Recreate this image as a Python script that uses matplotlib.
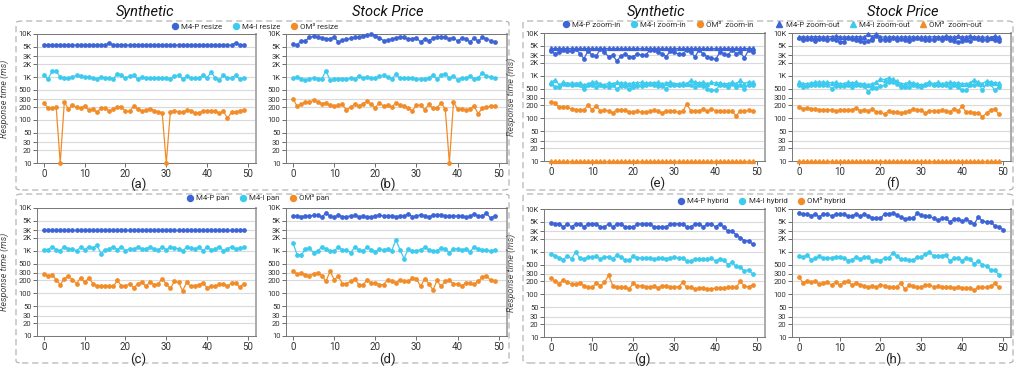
import matplotlib.pyplot as plt
from matplotlib.lines import Line2D
from matplotlib.patches import FancyBboxPatch
from matplotlib.ticker import FixedLocator, FixedFormatter, NullLocator

plt.rcParams['font.family'] = ['Roboto', 'DejaVu Sans']

BLUE = '#3d64d6'
CYAN = '#3ccbee'
ORANGE = '#f28c28'

yticks = [10, 20, 30, 50, 100, 200, 300, 500, 1000, 2000, 3000, 5000, 10000]
ytick_labels = ['10', '20', '30', '50', '100', '200', '300', '500', '1K', '2K', '3K', '5K', '10K']
xticks = [0, 10, 20, 30, 40, 50]

# ---- resize ----
m4p_resize_syn = [5500, 5500, 5500, 5500, 5500, 5500, 5500, 5500, 5500, 5500,
                  5500, 5500, 5500, 5500, 5500, 5500, 6200, 5500, 5500, 5500,
                  5500, 5500, 5500, 5500, 5500, 5500, 5500, 5500, 5500, 5500,
                  5500, 5500, 5500, 5500, 5500, 5500, 5500, 5500, 5500, 5500,
                  5500, 5500, 5500, 5500, 5500, 5500, 5500, 6200, 5500, 5500]
m4i_resize_syn = [1100, 900, 1350, 1350, 1000, 950, 950, 1000, 1100, 1050,
                  1000, 1000, 950, 900, 1000, 950, 950, 900, 1200, 1100,
                  950, 1050, 1100, 880, 1000, 950, 950, 950, 950, 950,
                  950, 900, 1050, 1100, 900, 1050, 950, 950, 950, 1100,
                  950, 1300, 950, 850, 1100, 950, 950, 1100, 900, 950]
om3_resize_syn = [250, 190, 190, 200, 10, 260, 180, 220, 200, 190,
                  210, 170, 180, 150, 190, 190, 160, 180, 200, 200,
                  160, 160, 210, 180, 160, 170, 185, 165, 155, 145,
                  10, 155, 165, 155, 150, 170, 165, 145, 145, 165,
                  165, 165, 160, 145, 160, 110, 150, 150, 165, 170]

m4p_resize_stk = [5800, 5500, 7000, 7000, 8300, 8800, 8500, 8200, 7800, 7800,
                  8500, 6500, 7200, 7500, 7900, 8300, 8500, 9000, 9300, 9800,
                  9000, 8200, 7000, 7200, 7500, 8200, 8500, 8500, 7500, 7800,
                  8200, 6500, 7800, 7000, 7900, 8500, 8500, 8300, 7800, 8200,
                  6800, 8000, 7800, 6500, 8000, 6800, 8300, 7800, 7000, 6500]
m4i_resize_stk = [950, 1000, 900, 850, 900, 950, 900, 900, 1400, 850,
                  900, 900, 900, 880, 950, 900, 1050, 950, 1000, 950,
                  950, 1050, 1100, 1000, 920, 1150, 950, 950, 950, 950,
                  900, 880, 900, 950, 1100, 900, 1100, 1200, 950, 1050,
                  850, 950, 950, 1050, 900, 950, 1250, 1050, 1000, 950]
om3_resize_stk = [310, 210, 230, 260, 260, 290, 260, 240, 250, 220,
                  210, 220, 230, 170, 200, 230, 210, 240, 270, 230,
                  195, 250, 210, 220, 200, 250, 220, 210, 190, 165,
                  220, 220, 175, 230, 190, 195, 250, 180, 10, 260,
                  180, 180, 170, 180, 210, 140, 190, 200, 210, 210]

# ---- pan ----
m4p_pan_syn = [3000, 3000, 3000, 3000, 3000, 3000, 3000, 3000, 3000, 3000,
               3000, 3000, 3000, 3000, 3000, 3000, 3000, 3000, 3000, 3000,
               3000, 3000, 3000, 3000, 3000, 3000, 3000, 3000, 3000, 3000,
               3000, 3000, 3000, 3000, 3000, 3000, 3000, 3000, 3000, 3000,
               3000, 3000, 3000, 3000, 3000, 3000, 3000, 3000, 3000, 3000]
m4i_pan_syn = [1050, 1050, 1250, 1050, 1000, 1250, 1100, 1100, 1000, 1200,
               1050, 1250, 1150, 1350, 850, 1050, 1100, 1250, 1050, 1250,
               1000, 1100, 1100, 1200, 1100, 1100, 1250, 1100, 1050, 1200,
               1050, 1200, 1150, 1100, 1000, 1200, 1150, 1100, 1200, 1000,
               1200, 1050, 1100, 1250, 1000, 1100, 1250, 1100, 1150, 1200]
om3_pan_syn = [280, 260, 270, 210, 160, 220, 250, 210, 170, 230,
               180, 230, 170, 150, 150, 150, 145, 145, 200, 150,
               150, 165, 135, 165, 185, 145, 185, 160, 165, 220,
               165, 130, 190, 180, 115, 180, 145, 150, 160, 175,
               135, 145, 145, 165, 170, 145, 175, 175, 140, 170]

m4p_pan_stk = [6500, 6500, 6300, 6500, 6500, 6700, 6800, 6200, 7500, 6500,
               6200, 6800, 6300, 6300, 6500, 6700, 6300, 6500, 6200, 6200,
               6500, 6800, 6500, 6500, 6500, 6300, 6500, 6500, 7200, 6300,
               6500, 7000, 6500, 6300, 6700, 7000, 7000, 6500, 6500, 6500,
               6500, 6500, 6200, 6500, 7200, 6500, 6500, 7500, 5800, 6500]
m4i_pan_stk = [1500, 800, 780, 1100, 1150, 900, 1000, 1200, 1100, 980,
               1000, 1200, 1050, 1050, 900, 1200, 1050, 1000, 1200, 1050,
               950, 1100, 1050, 1100, 1000, 1800, 1050, 650, 1100, 1000,
               1000, 1050, 1200, 1050, 1000, 1000, 1150, 1100, 900, 1100,
               1100, 1050, 1100, 950, 1200, 1100, 1050, 1050, 980, 1050]
om3_pan_stk = [330, 280, 300, 270, 260, 290, 300, 260, 190, 330,
               210, 250, 170, 170, 190, 220, 160, 160, 200, 175,
               175, 160, 160, 210, 195, 175, 210, 195, 190, 230,
               220, 145, 220, 170, 120, 200, 145, 195, 200, 170,
               165, 150, 175, 175, 165, 190, 240, 260, 200, 195]

# ---- zoom-in (circles) / zoom-out (triangles) ----
m4p_zin_syn = [3800, 3300, 3500, 4000, 3700, 3700, 4200, 3300, 2500, 3800,
               3000, 2900, 4200, 3500, 2800, 3000, 2200, 2900, 3200, 2800,
               2800, 3300, 3000, 3000, 4000, 4000, 3500, 3300, 2800, 3800,
               3500, 3200, 3200, 4000, 3500, 2800, 4000, 3200, 2800, 2600,
               2400, 3500, 3300, 3000, 4100, 3300, 3500, 2600, 4000, 3500]
m4p_zout_syn = [4500, 4500, 4500, 4500, 4500, 4500, 4500, 4500, 4500, 4500,
                4500, 4500, 4500, 4500, 4500, 4500, 4500, 4500, 4500, 4500,
                4500, 4500, 4500, 4500, 4500, 4500, 4500, 4500, 4500, 4500,
                4500, 4500, 4500, 4500, 4500, 4500, 4500, 4500, 4500, 4500,
                4500, 4500, 4500, 4500, 4500, 4500, 4500, 4500, 4500, 4500]
m4i_zin_syn = [650, 550, 550, 650, 650, 600, 650, 600, 480, 600,
               600, 550, 620, 580, 550, 600, 480, 580, 560, 480,
               550, 580, 560, 600, 650, 600, 580, 560, 500, 600,
               620, 600, 600, 650, 600, 550, 600, 580, 500, 450,
               450, 600, 600, 550, 650, 550, 600, 480, 620, 600]
m4i_zout_syn = [700, 800, 600, 700, 650, 680, 650, 680, 600, 650,
                700, 720, 650, 600, 680, 650, 700, 680, 680, 650,
                680, 680, 700, 680, 680, 680, 700, 650, 680, 700,
                650, 650, 680, 650, 780, 700, 680, 700, 650, 700,
                680, 680, 650, 650, 700, 650, 780, 650, 720, 700]
om3_zin_syn = [240, 225, 180, 180, 180, 165, 160, 160, 160, 200,
               160, 195, 150, 155, 150, 135, 160, 155, 155, 140,
               140, 145, 140, 140, 145, 155, 145, 135, 150, 150,
               145, 140, 145, 215, 150, 150, 150, 165, 145, 165,
               150, 150, 145, 145, 145, 115, 150, 145, 155, 150]
om3_zout_syn = [10, 10, 10, 10, 10, 10, 10, 10, 10, 10,
                10, 10, 10, 10, 10, 10, 10, 10, 10, 10,
                10, 10, 10, 10, 10, 10, 10, 10, 10, 10,
                10, 10, 10, 10, 10, 10, 10, 10, 10, 10,
                10, 10, 10, 10, 10, 10, 10, 10, 10, 10]

m4p_zin_stk = [7500, 6800, 7200, 7200, 6500, 7200, 7200, 6800, 7200, 6800,
               6300, 6300, 7500, 7200, 6800, 6500, 6300, 6500, 7000, 8500,
               7000, 7000, 6800, 7500, 6800, 7200, 7000, 6500, 7200, 7500,
               7200, 6800, 7000, 6800, 7500, 7000, 7500, 6800, 6500, 6000,
               6500, 7000, 6500, 7500, 7200, 6800, 7000, 7500, 6800, 6500]
m4p_zout_stk = [8000, 8200, 8000, 8200, 8200, 8200, 8000, 8200, 8200, 8500,
                8200, 8000, 8200, 8000, 8200, 8200, 8000, 9500, 8200, 9500,
                8200, 8000, 8000, 8200, 8000, 8000, 8200, 8000, 8200, 8000,
                8000, 8200, 8000, 8200, 8200, 8000, 8500, 8200, 8000, 8500,
                8000, 8200, 8500, 8000, 8200, 8000, 8000, 7800, 8500, 8000]
m4i_zin_stk = [620, 550, 580, 600, 620, 600, 620, 600, 500, 580,
               560, 560, 600, 550, 600, 600, 560, 420, 520, 520,
               560, 600, 700, 700, 650, 550, 550, 550, 600, 580,
               550, 600, 650, 600, 620, 600, 600, 550, 600, 550,
               450, 450, 600, 600, 650, 450, 650, 650, 450, 550]
m4i_zout_stk = [720, 650, 650, 680, 700, 720, 700, 700, 680, 700,
                650, 650, 700, 680, 700, 650, 650, 620, 650, 700,
                850, 800, 900, 820, 750, 650, 650, 700, 680, 650,
                600, 650, 720, 650, 700, 650, 680, 700, 680, 680,
                650, 650, 680, 800, 700, 650, 750, 720, 680, 680]
om3_zin_stk = [180, 170, 175, 170, 165, 160, 160, 160, 155, 150,
               155, 155, 160, 160, 175, 150, 160, 150, 165, 140,
               140, 125, 150, 140, 140, 135, 140, 150, 165, 160,
               160, 130, 150, 150, 145, 155, 150, 140, 170, 150,
               190, 140, 140, 135, 135, 110, 130, 160, 165, 125]
om3_zout_stk = [10, 10, 10, 10, 10, 10, 10, 10, 10, 10,
                10, 10, 10, 10, 10, 10, 10, 10, 10, 10,
                10, 10, 10, 10, 10, 10, 10, 10, 10, 10,
                10, 10, 10, 10, 10, 10, 10, 10, 10, 10,
                10, 10, 10, 10, 10, 10, 10, 10, 10, 10]

# ---- hybrid ----
m4p_hyb_syn = [4800, 4500, 4500, 3800, 4500, 3800, 4500, 4500, 3800, 4500,
               4500, 4500, 3800, 3800, 4500, 3800, 4500, 4500, 3800, 3800,
               3800, 4500, 4500, 4500, 4500, 3800, 3800, 3800, 3800, 4500,
               4500, 4500, 4500, 3800, 3800, 4500, 4500, 3800, 4500, 4500,
               3800, 4500, 3800, 3000, 3000, 2500, 2100, 1800, 1800, 1500]
m4i_hyb_syn = [900, 800, 720, 650, 800, 680, 1000, 700, 660, 760,
               760, 780, 680, 760, 760, 680, 820, 750, 630, 630,
               780, 720, 700, 720, 720, 660, 700, 700, 690, 720,
               740, 700, 720, 600, 600, 680, 690, 660, 660, 700,
               600, 680, 630, 500, 560, 450, 440, 350, 380, 300]
om3_hyb_syn = [240, 200, 175, 220, 190, 175, 175, 185, 160, 150,
               145, 185, 160, 190, 280, 160, 145, 145, 145, 135,
               180, 155, 160, 150, 150, 155, 140, 160, 155, 145,
               150, 150, 190, 145, 145, 135, 140, 140, 135, 135,
               140, 140, 140, 145, 145, 145, 200, 155, 150, 165]

m4p_hyb_stk = [8200, 7500, 7500, 7000, 7500, 6500, 7800, 7500, 7000, 7500,
               7500, 7500, 6800, 7000, 7500, 6800, 7500, 7000, 6200, 6000,
               6000, 7800, 7800, 8000, 7200, 6500, 5800, 6000, 6000, 8000,
               7200, 6800, 6800, 6000, 5500, 6000, 6000, 5000, 5800, 5800,
               5200, 5800, 5000, 4500, 6500, 5200, 5000, 5000, 4000, 3800, 3300]
m4i_hyb_stk = [800, 750, 850, 650, 700, 780, 700, 720, 720, 760,
               760, 720, 620, 650, 750, 660, 750, 740, 600, 650,
               620, 720, 720, 920, 800, 660, 660, 640, 630, 750,
               740, 880, 980, 800, 800, 800, 850, 600, 700, 700,
               620, 720, 660, 520, 600, 500, 470, 370, 370, 290]
om3_hyb_stk = [260, 185, 210, 190, 200, 175, 180, 190, 165, 195,
               165, 190, 205, 165, 185, 170, 155, 150, 160, 145,
               170, 160, 150, 145, 150, 185, 130, 165, 155, 145,
               145, 165, 165, 150, 155, 150, 150, 145, 140, 150,
               140, 140, 140, 125, 145, 145, 145, 155, 180, 145]

W, H = 1017, 368
fig = plt.figure(figsize=(W / 100, H / 100), dpi=100)


def fx(px):
    return px / W


def fy(py):
    return 1 - py / H


# dashed frames around each row of panels
for x0, y0, x1, y1 in [(16, 21, 509, 190), (16, 194, 509, 363),
                       (523, 21, 1013, 190), (523, 194, 1013, 363)]:
    box = FancyBboxPatch((fx(x0), fy(y1)), fx(x1) - fx(x0), fy(y0) - fy(y1),
                         boxstyle='round,pad=0,rounding_size=0.006',
                         transform=fig.transFigure, fill=False,
                         edgecolor='#b5b5b5', lw=0.9, ls=(0, (5, 3)))
    fig.add_artist(box)


def draw_panel(left_px, top_px, bottom_px, width_px, series, label, label_x, label_y, ylabel=False):
    ax = fig.add_axes([fx(left_px), fy(bottom_px), width_px / W, (bottom_px - top_px) / H])
    for vals, color, marker in series:
        ax.plot(range(len(vals)), vals, color=color, marker=marker,
                ms=2.4 if marker == 'o' else 2.8, lw=0.9, clip_on=False, zorder=3)
    ax.set_yscale('log')
    ax.set_ylim(10, 10000)
    ax.set_xlim(-1.7, 52)
    ax.yaxis.set_major_locator(FixedLocator(yticks))
    ax.yaxis.set_major_formatter(FixedFormatter(ytick_labels))
    ax.yaxis.set_minor_locator(NullLocator())
    ax.set_xticks(xticks)
    ax.yaxis.grid(True, color='#dadada', lw=0.8)
    ax.set_axisbelow(True)
    ax.tick_params(axis='y', labelsize=5.5, length=3, width=0.6, color='#555', pad=1, labelcolor='#333')
    ax.tick_params(axis='x', labelsize=7, length=3, width=0.6, color='#555', pad=1.5, labelcolor='#333')
    for side in ['top', 'left', 'bottom']:
        ax.spines[side].set_color('#777')
        ax.spines[side].set_linewidth(0.7)
    ax.spines['right'].set_color('#aaa')
    ax.spines['right'].set_linewidth(1.4)
    if ylabel:
        ax.set_ylabel('Response time (ms)', fontsize=6.5, style='italic', color='#444')
        ax.yaxis.set_label_coords(-28 / width_px, 0.5)
    fig.text(fx(label_x), fy(label_y), label, ha='center', va='center', fontsize=9.5, color='#222')
    return ax


draw_panel(37, 34, 163, 219, [(m4p_resize_syn, BLUE, 'o'), (m4i_resize_syn, CYAN, 'o'),
                              (om3_resize_syn, ORANGE, 'o')], '(a)', 138, 184, ylabel=True)
draw_panel(286, 34, 163, 221, [(m4p_resize_stk, BLUE, 'o'), (m4i_resize_stk, CYAN, 'o'),
                               (om3_resize_stk, ORANGE, 'o')], '(b)', 387, 184)
draw_panel(37, 208, 336, 219, [(m4p_pan_syn, BLUE, 'o'), (m4i_pan_syn, CYAN, 'o'),
                               (om3_pan_syn, ORANGE, 'o')], '(c)', 138, 359, ylabel=True)
draw_panel(286, 208, 336, 221, [(m4p_pan_stk, BLUE, 'o'), (m4i_pan_stk, CYAN, 'o'),
                                (om3_pan_stk, ORANGE, 'o')], '(d)', 387, 359)
draw_panel(544, 33, 161, 221, [(m4p_zout_syn, BLUE, '^'), (m4p_zin_syn, BLUE, 'o'),
                               (m4i_zout_syn, CYAN, '^'), (m4i_zin_syn, CYAN, 'o'),
                               (om3_zin_syn, ORANGE, 'o'), (om3_zout_syn, ORANGE, '^')],
           '(e)', 657, 183, ylabel=True)
draw_panel(792, 33, 161, 219, [(m4p_zout_stk, BLUE, '^'), (m4p_zin_stk, BLUE, 'o'),
                               (m4i_zout_stk, CYAN, '^'), (m4i_zin_stk, CYAN, 'o'),
                               (om3_zin_stk, ORANGE, 'o'), (om3_zout_stk, ORANGE, '^')],
           '(f)', 893, 183)
draw_panel(544, 209, 337, 221, [(m4p_hyb_syn, BLUE, 'o'), (m4i_hyb_syn, CYAN, 'o'),
                                (om3_hyb_syn, ORANGE, 'o')], '(g)', 642, 359, ylabel=True)
draw_panel(792, 209, 337, 219, [(m4p_hyb_stk, BLUE, 'o'), (m4i_hyb_stk, CYAN, 'o'),
                                (om3_hyb_stk, ORANGE, 'o')], '(h)', 893, 359)

# column titles
for x, t in [(145, 'Synthetic'), (388, 'Stock Price'), (656, 'Synthetic'), (903, 'Stock Price')]:
    fig.text(fx(x), fy(12), t, ha='center', va='center', fontsize=10.5, style='italic', color='#111')


def add_legend(names, marker, cx, cy):
    handles = [Line2D([], [], ls='none', marker=marker, ms=4.3, color=c) for c in (BLUE, CYAN, ORANGE)]
    fig.legend(handles, names, loc='center', bbox_to_anchor=(fx(cx), fy(cy)), ncol=3,
               frameon=False, fontsize=5.7, handlelength=0.8, handletextpad=0.4,
               columnspacing=1.3, borderpad=0, labelcolor='#333')


add_legend(['M4-P resize', 'M4-I resize', 'OM³ resize'], 'o', 255, 27)
add_legend(['M4-P pan', 'M4-I pan', 'OM³ pan'], 'o', 258, 198)
add_legend(['M4-P zoom-in', 'M4-I zoom-in', 'OM³  zoom-in'], 'o', 658, 25)
add_legend(['M4-P zoom-out', 'M4-I zoom-out', 'OM³  zoom-out'], '^', 879, 25)
add_legend(['M4-P hybrid', 'M4-I hybrid', 'OM³ hybrid'], 'o', 762, 201)

fig.savefig('out.png', dpi=100)
